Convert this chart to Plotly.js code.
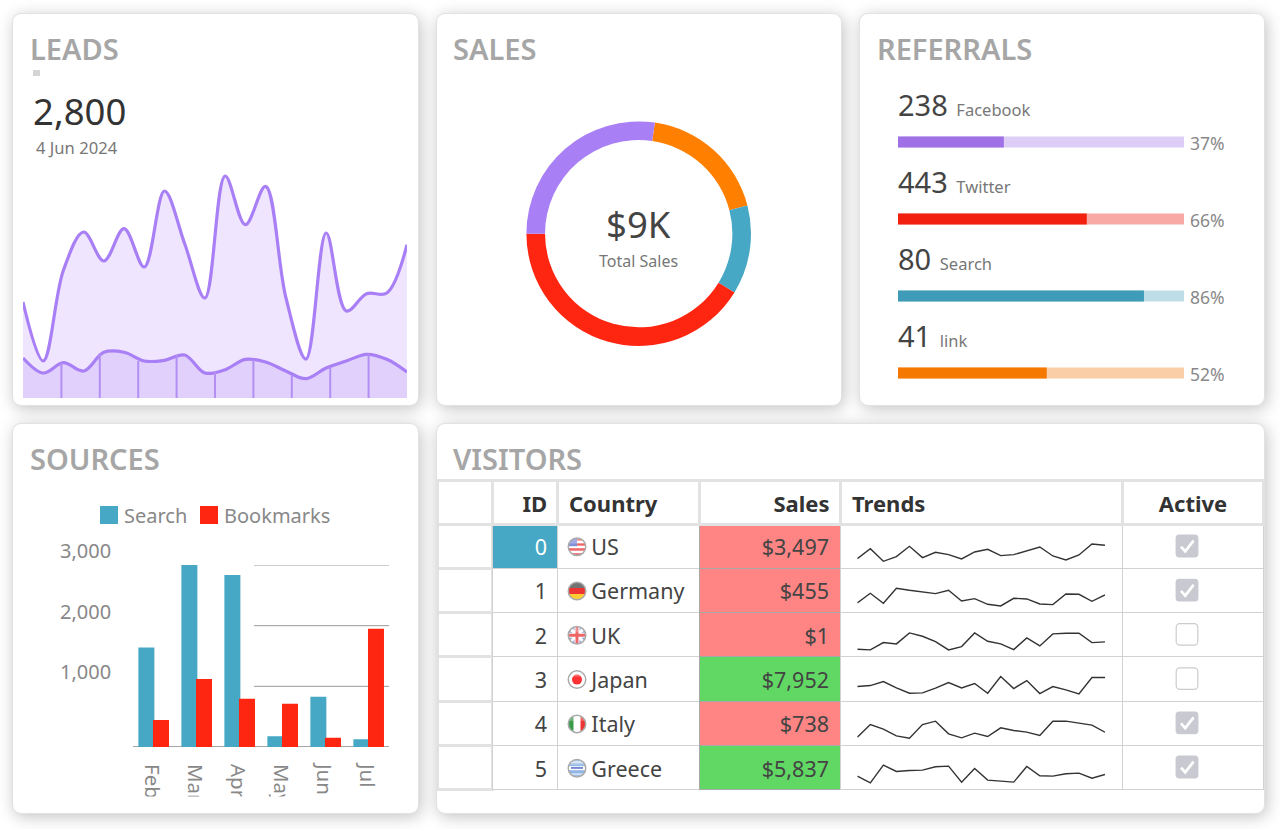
<!DOCTYPE html>
<html><head><meta charset="utf-8">
<script src="https://cdn.plot.ly/plotly-3.0.1.min.js"></script>
<style>
html,body{margin:0;padding:0;background:#fff;width:1280px;height:829px;overflow:hidden}
.card{position:absolute;background:#fff;border:1px solid #e2e2e2;border-radius:9px;box-shadow:2px 3px 16px rgba(0,0,0,.24);box-sizing:border-box}
#chart{position:absolute;left:0;top:0;width:1280px;height:829px}
</style></head><body>
<div class="card" style="left:12px;top:13px;width:407px;height:393px"></div>
<div class="card" style="left:436px;top:13px;width:406px;height:393px"></div>
<div class="card" style="left:859px;top:13px;width:406px;height:393px"></div>
<div class="card" style="left:12px;top:423px;width:407px;height:391px"></div>
<div class="card" style="left:436px;top:423px;width:829px;height:391px"></div>
<div id="chart"></div>
<script>
const FONT = '"Noto Sans","Open Sans",sans-serif';
const W = 1280, H = 829;
const px = x => x / W, py = y => 1 - y / H;
const dx = (a, b) => [a / W, b / W], dy = (t, b) => [1 - b / H, 1 - t / H];

// Leads
const leadsIndex = [0,1,2,3,4,5,6,7,8,9,10,11,12,13,14,15,16,17,18,19];
const leadsUpper = [960,370,1277,1660,1370,1693,1310,2070,1543,1000,2220,1733,2117,1010,390,1650,870,1043,1050,1533];
const leadsLower = [400,250,353,270,457,457,370,377,430,250,283,387,360,270,193,300,370,437,387,260];
const leadsDropX = [1.9,3.8,5.7,7.6,9.5,11.4,13.3,15.2,17.1];
const leadsDropY = [353,450,370,427,270,383,227,310,437];
// Sales donut
const salesLabels = ['Link','Search','Twitter','Facebook'];
const salesValues = [1680,1150,3712,2458];
const salesColors = ['#ff8000','#46a8c4','#ff2611','#a97ff5'];
// Referrals
const refNumbers = [238,443,80,41];
const refNames = ['Facebook','Twitter','Search','link'];
const refPercent = [37,66,86,52];
const refDark = ['#a070e6','#f2200e','#3f9cb9','#f57900'];
const refLight = ['#decdf6','#f8a8a5','#bfdde7','#facfa8'];
// Sources
const months = ['Feb','Mar','Apr','May','Jun','Jul'];
const sourceSearch = [1640,3000,2835,176,830,126];
const sourceBookmarks = [445,1120,797,714,154,1950];
// Visitors
const visitorIds = [0,1,2,3,4,5];
const countries = ['US','Germany','UK','Japan','Italy','Greece'];
const salesAmount = [3497,455,1,7952,738,5837];
const active = [true,true,false,false,true,true];
const tableHeaders = ['ID','Country','Sales','Trends','Active'];
const trends = [
 [29,59,21,35,66,32,48,41,28,49,57,38,41,52,64,37,25,40,73,69],
 [29,58,28,73,67,63,57,67,35,42,25,20,43,41,26,24,56,55,34,53],
 [23,21,43,39,72,62,46,21,31,72,47,39,22,57,33,69,71,71,43,45],
 [44,47,59,40,24,25,39,56,40,53,24,74,38,62,23,44,34,22,71,71],
 [25,63,49,29,22,63,73,35,23,37,27,53,45,40,30,73,73,67,61,40],
 [41,21,74,55,58,59,69,71,23,64,29,27,23,70,42,41,48,50,35,46]
];

const data = [];
// leads
data.push({type:'scatter',mode:'lines',x:leadsIndex,y:leadsUpper,xaxis:'x',yaxis:'y',fill:'tozeroy',fillcolor:'#efe5fe',
  line:{shape:'spline',smoothing:1,color:'#a97ff5',width:3.2},cliponaxis:false,hoverinfo:'skip'});
data.push({type:'scatter',mode:'lines',x:leadsIndex,y:leadsLower,xaxis:'x',yaxis:'y',fill:'tozeroy',fillcolor:'#e0d0fb',
  line:{shape:'spline',smoothing:1,color:'#a97ff5',width:3.2},cliponaxis:false,hoverinfo:'skip'});
data.push({type:'scatter',mode:'lines',x:leadsDropX.flatMap(v=>[v,v,null]),y:leadsDropY.flatMap(v=>[0,v,null]),xaxis:'x',yaxis:'y',
  connectgaps:false,line:{color:'#b48ff3',width:2},hoverinfo:'skip'});
// donut
data.push({type:'pie',labels:salesLabels,values:salesValues,hole:0.834,sort:false,direction:'clockwise',rotation:8.3,
  marker:{colors:salesColors,line:{width:0}},textinfo:'none',hoverinfo:'skip',showlegend:false,
  domain:{x:dx(526.4,751),y:dy(121.4,346)}});
// referrals
data.push({type:'bar',orientation:'h',y:refNames,x:refPercent.map(()=>100),width:0.143,xaxis:'x2',yaxis:'y2',marker:{color:refLight,line:{width:0}},hoverinfo:'skip'});
data.push({type:'bar',orientation:'h',y:refNames,x:refPercent,width:0.143,xaxis:'x2',yaxis:'y2',marker:{color:refDark,line:{width:0}},hoverinfo:'skip'});
// sources
data.push({type:'bar',x:months,y:sourceSearch,width:0.372,offset:-0.31,xaxis:'x3',yaxis:'y3',marker:{color:'#46a8c4',line:{width:0}},hoverinfo:'skip'});
data.push({type:'bar',x:months,y:sourceBookmarks,width:0.372,offset:0.03,xaxis:'x3',yaxis:'y3',marker:{color:'#ff2611',line:{width:0}},hoverinfo:'skip'});

const cellText = '#444';
const salesFill = salesAmount.map(v => v > 5000 ? '#60d863' : '#ff8585');
const W_ = '#ffffff', T_ = 'rgba(0,0,0,0)';
data.push({type:'table',domain:{x:dx(437,1263.5),y:dy(480,800)},
  columnwidth:[55,65,142,141,282,141],
  header:{values:[''].concat(tableHeaders.map(h=>'<b>'+h+'</b>')),
    align:['left','right','left','right','left','center'],height:43,
    font:{family:FONT,size:21,color:'#333'},fill:{color:W_},line:{color:'#e2e2e2',width:3}},
  cells:{values:[
      visitorIds.map(()=>''),
      visitorIds.map(String),
      countries.map(c=>'\u00A0\u00A0\u00A0\u00A0'+c),
      salesAmount.map(v=>'$'+v.toLocaleString('en-US')),
      visitorIds.map(()=>''),
      visitorIds.map(()=>'')],
    align:['left','right','left','right','left','center'],height:44.3,
    font:{family:FONT,size:21.5,color:[[cellText],visitorIds.map(i=>i===0?'#fff':cellText),[cellText],[cellText],[cellText],[cellText]]},
    fill:{color:[[W_],visitorIds.map(i=>i===0?'#46a8c4':W_),[W_],salesFill,[T_],[W_]]},
    line:{color:['#e2e2e2','#d2d2d2','#d2d2d2','#a8a8a8','#d2d2d2','#d2d2d2'],width:[3,1,1,1,1,1]}}
});

const layout = {width:W,height:H,margin:{l:0,r:0,t:0,b:0},paper_bgcolor:'rgba(0,0,0,0)',plot_bgcolor:'rgba(0,0,0,0)',
  showlegend:false,barmode:'overlay',font:{family:FONT,color:'#777'},hovermode:false,
  xaxis:{domain:dx(23,407),range:[0,19],visible:false,fixedrange:true},
  yaxis:{domain:dy(138,398),range:[0,2600],visible:false,fixedrange:true},
  xaxis2:{domain:dx(898,1184),range:[0,100],visible:false,anchor:'y2'},
  yaxis2:{domain:dy(103.5,411.5),type:'category',categoryorder:'array',categoryarray:refNames,range:[3.5,-0.5],visible:false,anchor:'x2'},
  xaxis3:{domain:dx(130.2,388.2),type:'category',categoryorder:'array',categoryarray:months,range:[-0.5,5.5],anchor:'y3',
    tickangle:90,tickfont:{size:20.5,color:'#888'},showline:false,ticks:'',showgrid:false,zeroline:false,ticklabelstandoff:16},
  yaxis3:{domain:dy(565,747),range:[0,3000],anchor:'x3',tickvals:[1000,2000,3000],ticktext:['1,000','2,000','3,000'],
    tickfont:{size:20,color:'#888'},showgrid:false,zeroline:false,showline:false,ticks:'',ticklabelshift:-14,ticklabelstandoff:18},
  shapes:[],annotations:[],images:[]};

// sparklines
trends.forEach((t,i)=>{
  const xa='xaxis'+(4+i), ya='yaxis'+(4+i);
  data.push({type:'scatter',mode:'lines',x:leadsIndex,y:t,xaxis:'x'+(4+i),yaxis:'y'+(4+i),line:{color:'#333',width:1.4},hoverinfo:'skip'});
  layout[xa]={domain:dx(857.3,1105),range:[0,19],visible:false,anchor:'y'+(4+i)};
  layout[ya]={domain:dy(524+44.3*i,568.3+44.3*i),range:[0,133],visible:false,anchor:'x'+(4+i)};
});

const note=(text,x,y,size,color,anchor,extra)=>Object.assign({text,x:px(x),y:py(y),xref:'paper',yref:'paper',showarrow:false,
  xanchor:anchor||'left',yanchor:'middle',font:{family:FONT,size,color}},extra||{});
[['LEADS',28,48.5],['SALES',451,48.5],['REFERRALS',875,48.5],['SOURCES',28,458.5],['VISITORS',451,458.5]].forEach(t=>{
  const a=note(t[0],t[1],t[2],29,'#a6a6a6'); a.font.weight=600; layout.annotations.push(a);
});
layout.annotations.push(note('2,800',31,111,36.5,'#333'));
layout.annotations.push(note('4 Jun 2024',34,147.5,16.6,'#777'));
layout.annotations.push(note('$9K',638.5,224,36.5,'#444','center'));
layout.annotations.push(note('Total Sales',638.5,261,16,'#777','center'));
layout.shapes.push({type:'rect',xref:'paper',yref:'paper',x0:px(33),x1:px(40),y0:py(70),y1:py(76),fillcolor:'#d5d5d5',line:{width:0}});

refNames.forEach((n,i)=>{
  layout.annotations.push({xref:'x2',yref:'y2',x:0,y:n,xanchor:'left',yanchor:'bottom',yshift:16,xshift:-2,showarrow:false,align:'left',
    text:'<span style="font-size:29px;color:#444">'+refNumbers[i]+'</span>\u00A0\u00A0<span style="font-size:16.5px;color:#777">'+n+'</span>',font:{family:FONT,size:16.5}});
  layout.annotations.push({xref:'x2',yref:'y2',x:100,y:n,xanchor:'left',xshift:4,yshift:-1,showarrow:false,text:refPercent[i]+'%',font:{family:FONT,size:17.5,color:'#888'}});
});

// sources grid and legend
[1000,2000,3000].forEach(v=>layout.shapes.push({type:'line',layer:'below',xref:'paper',yref:'y3',x0:px(254),x1:px(389),y0:v,y1:v,line:{color:'#999',width:1}}));
layout.shapes.push({type:'line',xref:'paper',yref:'y3',x0:px(133),x1:px(389),y0:0,y1:0,line:{color:'#888',width:1.5},layer:'below'});
[['Search','#46a8c4',100],['Bookmarks','#ff2611',200]].forEach(l=>{
  layout.shapes.push({type:'rect',xref:'paper',yref:'paper',x0:px(l[2]),x1:px(l[2]+18),y0:py(506),y1:py(524),fillcolor:l[1],line:{width:0}});
  layout.annotations.push(note(l[0],l[2]+22,515.5,20,'#888'));
});
// clip of the x tick labels
layout.shapes.push({type:'rect',xref:'paper',yref:'paper',x0:px(130),x1:px(395),y0:py(796.5),y1:py(812),fillcolor:'#fff',line:{width:0},layer:'above'});

// flags and checkboxes
const svg=(s)=>'data:image/svg+xml;utf8,'+encodeURIComponent('<svg xmlns="http://www.w3.org/2000/svg" viewBox="0 0 40 40">'+s+'</svg>');
const flag=(body)=>svg('<defs><clipPath id="c"><circle cx="20" cy="20" r="17"/></clipPath></defs><g clip-path="url(#c)"><rect width="40" height="40" fill="#fff"/>'+body+'<rect width="40" height="14" fill="#fff" opacity=".25"/></g><circle cx="20" cy="20" r="17.5" fill="none" stroke="#aaa" stroke-width="3"/>');
const flags={
 US:flag('<rect y="3" width="40" height="5" fill="#e66"/><rect y="13" width="40" height="5" fill="#e66"/><rect y="23" width="40" height="5" fill="#e66"/><rect y="33" width="40" height="5" fill="#e66"/><rect width="20" height="19" fill="#7f8fd8"/>'),
 Germany:flag('<rect width="40" height="14" fill="#444"/><rect y="14" width="40" height="12" fill="#e33"/><rect y="26" width="40" height="14" fill="#fc3"/>'),
 UK:flag('<rect width="40" height="40" fill="#8f9fd8"/><path d="M0 0L40 40M40 0L0 40" stroke="#fff" stroke-width="6"/><path d="M20 0V40M0 20H40" stroke="#fff" stroke-width="10"/><path d="M20 0V40M0 20H40" stroke="#e66" stroke-width="6"/>'),
 Japan:flag('<circle cx="20" cy="20" r="10" fill="#f33"/>'),
 Italy:flag('<rect width="13" height="40" fill="#3a9b4a"/><rect x="27" width="13" height="40" fill="#e33"/>'),
 Greece:flag('<rect width="40" height="40" fill="#8fb6e3"/><rect y="16" width="40" height="8" fill="#fff"/><rect y="6" width="40" height="4" fill="#cfe0f4"/><rect y="30" width="40" height="4" fill="#cfe0f4"/><rect x="8" y="18" width="24" height="3" fill="#5566cc"/>')
};
const boxOn=svg('<rect x="1" y="1" width="38" height="38" rx="6" fill="#c9c9d1"/><path d="M10 21L17 29L31 11" fill="none" stroke="#fff" stroke-width="4.5"/>');
const boxOff=svg('<rect x="2" y="2" width="36" height="36" rx="6" fill="#fff" stroke="#ccc" stroke-width="2"/>');
countries.forEach((c,i)=>{
  layout.images.push({source:flags[c],xref:'paper',yref:'paper',x:px(577),y:py(546.7+44.3*i),sizex:20/W,sizey:20/H,xanchor:'center',yanchor:'middle',sizing:'stretch',layer:'above'});
  layout.images.push({source:active[i]?boxOn:boxOff,xref:'paper',yref:'paper',x:px(1187),y:py(546+44.2*i),sizex:24/W,sizey:24/H,xanchor:'center',yanchor:'middle',sizing:'stretch',layer:'above'});
});

Plotly.newPlot('chart',data,layout,{displayModeBar:false,staticPlot:true}).then(()=>{
  // nudge the table text to sit in the middle of its cells
  const heads = new Set(tableHeaders);
  const ids = new Set(visitorIds.map(String));
  const headShift = {ID:-3,Country:4,Sales:-5,Trends:4,Active:-1};
  document.querySelectorAll('.cell-text').forEach(t=>{
    const s = t.textContent.trim();
    const isHead = heads.has(s);
    const left = countries.includes(s);
    const sx = isHead?headShift[s]:(left?4:(ids.has(s)?-2:-3));
    t.setAttribute('transform','translate('+sx+','+(isHead?2:7)+')');
    if(isHead) t.style.fontSize='22px';
  });
});
</script></body></html>
